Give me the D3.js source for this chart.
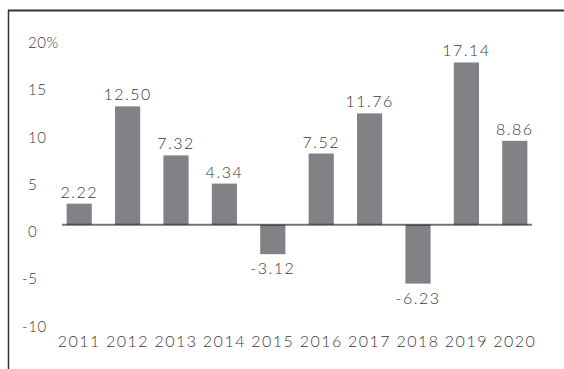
<!DOCTYPE html>
<html>
<head>
<meta charset="utf-8">
<script src="https://cdn.jsdelivr.net/npm/d3@7"></script>
<style>
  html, body { margin: 0; padding: 0; background: #fff; }
  svg { display: block; }
  text { font-family: Lato, "Open Sans", sans-serif; font-weight: 300; fill: #3a3a3a; }
</style>
</head>
<body>
<svg id="chart" width="564" height="369"></svg>
<script>
// Annual returns, 2011–2020
const years = ["2011", "2012", "2013", "2014", "2015", "2016", "2017", "2018", "2019", "2020"];
const returns = [2.22, 12.50, 7.32, 4.34, -3.12, 7.52, 11.76, -6.23, 17.14, 8.86];
const valueLabels = ["2.22", "12.50", "7.32", "4.34", "-3.12", "7.52", "11.76", "-6.23", "17.14", "8.86"];
const yTicks = [20, 15, 10, 5, 0, -5, -10];
const yTickLabels = ["20%", "15", "10", "5", "0", "-5", "-10"];

const svg = d3.select("#chart");

const x = d3.scaleBand()
  .domain(years)
  .range([55, 539])
  .paddingInner(0.48)
  .paddingOuter(0.24);

const y = d3.scaleLinear()
  .domain([-10, 20])
  .range([319.3, 35.4]);

// frame: top rule and left rule
svg.append("line")
  .attr("x1", 8).attr("x2", 564).attr("y1", 10.5).attr("y2", 10.5)
  .attr("stroke", "#333").attr("stroke-width", 2);
svg.append("line")
  .attr("x1", 8.5).attr("x2", 8.5).attr("y1", 10).attr("y2", 369)
  .attr("stroke", "#333").attr("stroke-width", 1.5);

// y tick labels
svg.append("g").selectAll("text")
  .data(yTicks)
  .join("text")
  .attr("x", d => d < 0 ? 22 : 28)
  .attr("y", d => y(d) + 12.5)
  .attr("font-size", 15)
  .style("letter-spacing", "0.6px")
  .text((d, i) => yTickLabels[i]);

// bars
svg.append("g").selectAll("rect")
  .data(returns)
  .join("rect")
  .attr("x", (d, i) => x(years[i]))
  .attr("width", x.bandwidth())
  .attr("y", d => y(Math.max(0, d)))
  .attr("height", d => Math.abs(y(d) - y(0)))
  .attr("fill", "#808285");

// zero baseline
svg.append("line")
  .attr("x1", 62).attr("x2", 532)
  .attr("y1", y(0)).attr("y2", y(0))
  .attr("stroke", "rgba(0,0,0,0.55)").attr("stroke-width", 2);

// value labels
svg.append("g").selectAll("text")
  .data(returns)
  .join("text")
  .attr("x", (d, i) => x(years[i]) + x.bandwidth() / 2)
  .attr("y", d => d >= 0 ? y(d) - 6 : y(d) + 20)
  .attr("text-anchor", "middle")
  .attr("font-size", 16)
  .style("letter-spacing", "1.5px")
  .text((d, i) => valueLabels[i]);

// year labels
svg.append("g").selectAll("text")
  .data(years)
  .join("text")
  .attr("x", d => x(d) + x.bandwidth() / 2)
  .attr("y", 346.5)
  .attr("text-anchor", "middle")
  .attr("font-size", 16)
  .style("letter-spacing", "1.5px")
  .text(d => d);
</script>
</body>
</html>
